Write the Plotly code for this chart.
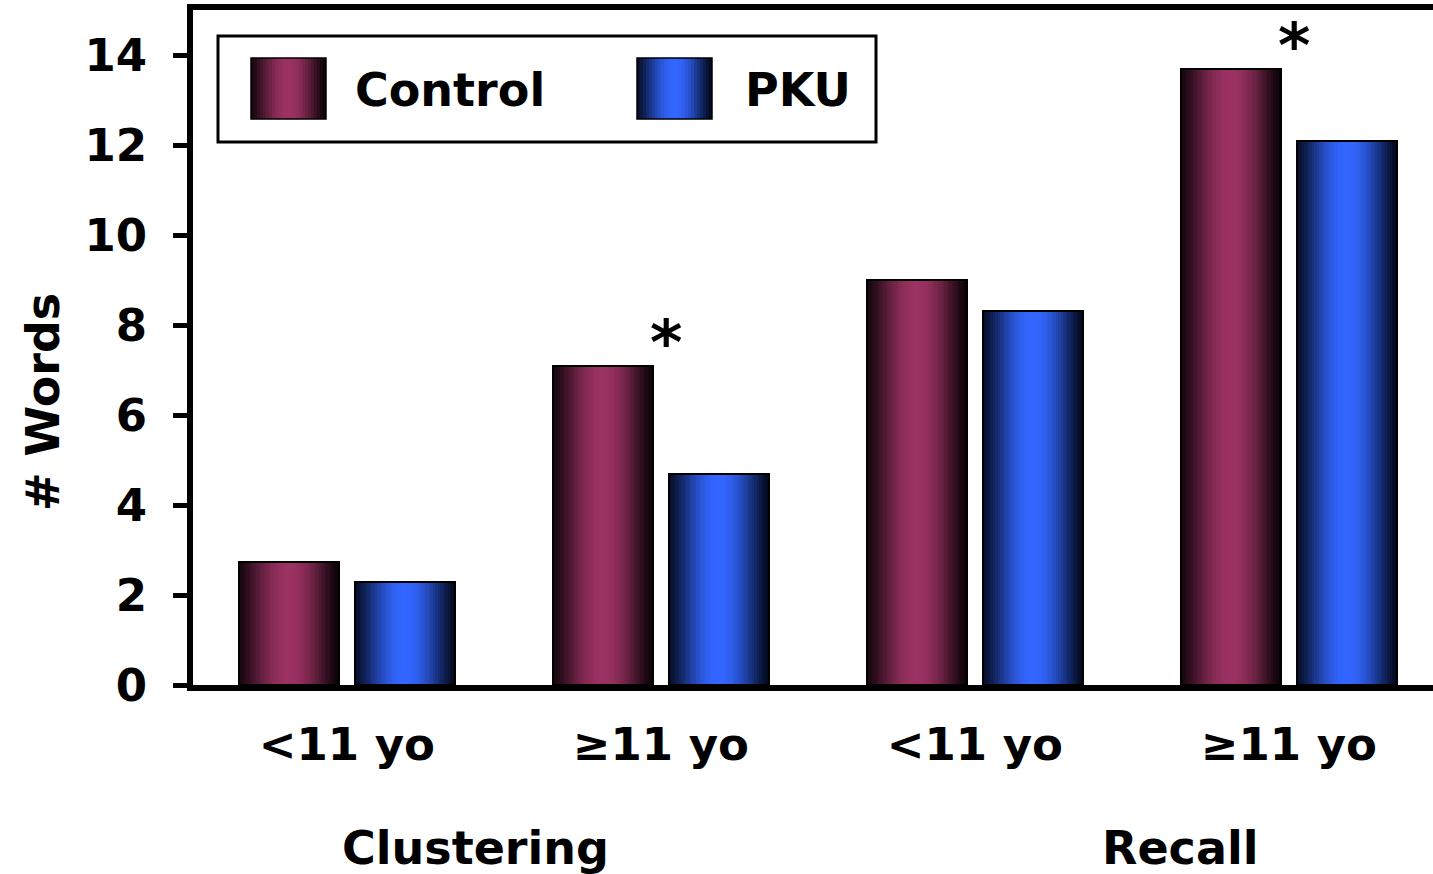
import math
import plotly.graph_objects as go

# ---- data -------------------------------------------------------------
age_labels = ["<11 yo", "≥11 yo", "<11 yo", "≥11 yo"]
task_labels = ["Clustering", "Recall"]
control_words = [2.74, 7.09, 8.99, 13.68]
pku_words = [2.30, 4.69, 8.31, 12.09]
significant_idx = [1, 3]          # Control vs PKU difference marked with *
y_ticks = [0, 2, 4, 6, 8, 10, 12, 14]

# ---- styling ----------------------------------------------------------
W, H = 1433, 874
L, R, T, B = 193, 1433, 10, 685
FONT = "DejaVu Sans"
x_pos = list(range(len(age_labels)))

BAR_W = 0.32
series = [
    dict(name="Control", values=control_words, offset=-0.345,
         center=(155, 50, 98), edge_l=(22, 6, 14), edge_r=(10, 2, 6)),
    dict(name="PKU", values=pku_words, offset=0.025,
         center=(50, 102, 255), edge_l=(6, 14, 40), edge_r=(2, 8, 26)),
]
N_SLICES = 40


def shade(s, t):
    """Cylinder-like horizontal shading: dark at the edges, bright in the middle."""
    f = math.sin(math.pi * t) ** 1.3
    edge = s["edge_l"] if t < 0.5 else s["edge_r"]
    c = [e + (cc - e) * f for e, cc in zip(edge, s["center"])]
    return "rgb(%d,%d,%d)" % tuple(round(v) for v in c)


fig = go.Figure()

for s in series:
    step = BAR_W / N_SLICES
    for i in range(N_SLICES):
        t = (i + 0.5) / N_SLICES
        # the last slice keeps to the bar's right edge
        w = step if i == N_SLICES - 1 else step * 1.8
        fig.add_trace(go.Bar(
            x=x_pos, y=s["values"],
            width=[w] * len(x_pos),
            offset=[s["offset"] + i * step] * len(x_pos),
            marker=dict(color=shade(s, t), line=dict(width=0)),
            showlegend=False, hoverinfo="skip",
        ))
    # outline of each bar
    fig.add_trace(go.Bar(
        x=x_pos, y=s["values"], name=s["name"],
        width=[BAR_W] * len(x_pos),
        offset=[s["offset"]] * len(x_pos),
        marker=dict(color="rgba(0,0,0,0)", line=dict(color="black", width=2)),
        showlegend=False,
    ))


def px_x(px):
    return (px - L) / (R - L)


def px_y(py):
    return (B - py) / (B - T)


shapes = []
annotations = []

# legend frame, swatches and labels
shapes.append(dict(type="rect", xref="paper", yref="paper",
                   x0=px_x(218), x1=px_x(876), y0=px_y(142), y1=px_y(36),
                   line=dict(color="black", width=3), fillcolor="white", layer="below"))
legend_items = [(series[0], 251, 353), (series[1], 637, 743)]
for s, sx, tx in legend_items:
    sw, n = 75, 25
    for i in range(n):
        t = (i + 0.5) / n
        right = sx + sw if i == n - 1 else sx + (i + 1.8) * sw / n
        shapes.append(dict(type="rect", xref="paper", yref="paper",
                           x0=px_x(sx + i * sw / n), x1=px_x(right),
                           y0=px_y(119), y1=px_y(58),
                           line=dict(width=0), fillcolor=shade(s, t)))
    shapes.append(dict(type="rect", xref="paper", yref="paper",
                       x0=px_x(sx), x1=px_x(sx + sw), y0=px_y(119), y1=px_y(58),
                       line=dict(color="black", width=1.5)))
    annotations.append(dict(text=s["name"], xref="paper", yref="paper",
                            x=px_x(tx), y=px_y(90), xanchor="left", yanchor="middle",
                            showarrow=False,
                            font=dict(family=FONT, size=46, weight="bold", color="black")))

# significance markers above the Control bars
for idx in significant_idx:
    annotations.append(dict(text="*", x=idx + 0.015, y=control_words[idx],
                            xref="x", yref="y", xanchor="center", yanchor="bottom",
                            yshift=-15, showarrow=False,
                            font=dict(family=FONT, size=62, weight="bold", color="black")))

# task group labels
for label, cx in zip(task_labels, [475, 1180]):
    annotations.append(dict(text=label, xref="paper", yref="paper",
                            x=px_x(cx), y=px_y(848), xanchor="center", yanchor="middle",
                            showarrow=False,
                            font=dict(family=FONT, size=46, weight="bold", color="black")))

# y-axis title
annotations.append(dict(text="# Words", xref="paper", yref="paper",
                        x=px_x(43), y=px_y(402), xanchor="center", yanchor="middle",
                        textangle=-90, showarrow=False,
                        font=dict(family=FONT, size=46, weight="bold", color="black")))

fig.update_layout(
    width=W, height=H,
    margin=dict(l=L, r=W - R, t=T, b=H - B, pad=0),
    paper_bgcolor="white", plot_bgcolor="white",
    barmode="overlay", bargap=0,
    showlegend=False,
    shapes=shapes, annotations=annotations,
    xaxis=dict(
        range=[-0.49, 3.459], tickvals=x_pos, ticktext=age_labels,
        showline=True, linecolor="black", linewidth=6, mirror=True,
        ticks="", showgrid=False, zeroline=False, ticklabelstandoff=15,
        tickfont=dict(family=FONT, size=45, weight="bold", color="black"),
    ),
    yaxis=dict(
        range=[0, 15], tickvals=y_ticks,
        showline=True, linecolor="black", linewidth=6,
        ticks="outside", ticklen=14, tickwidth=5, tickcolor="black",
        showgrid=False, zeroline=False, ticklabelstandoff=17,
        tickfont=dict(family=FONT, size=45, weight="bold", color="black"),
    ),
)

fig.write_html("out.html")
